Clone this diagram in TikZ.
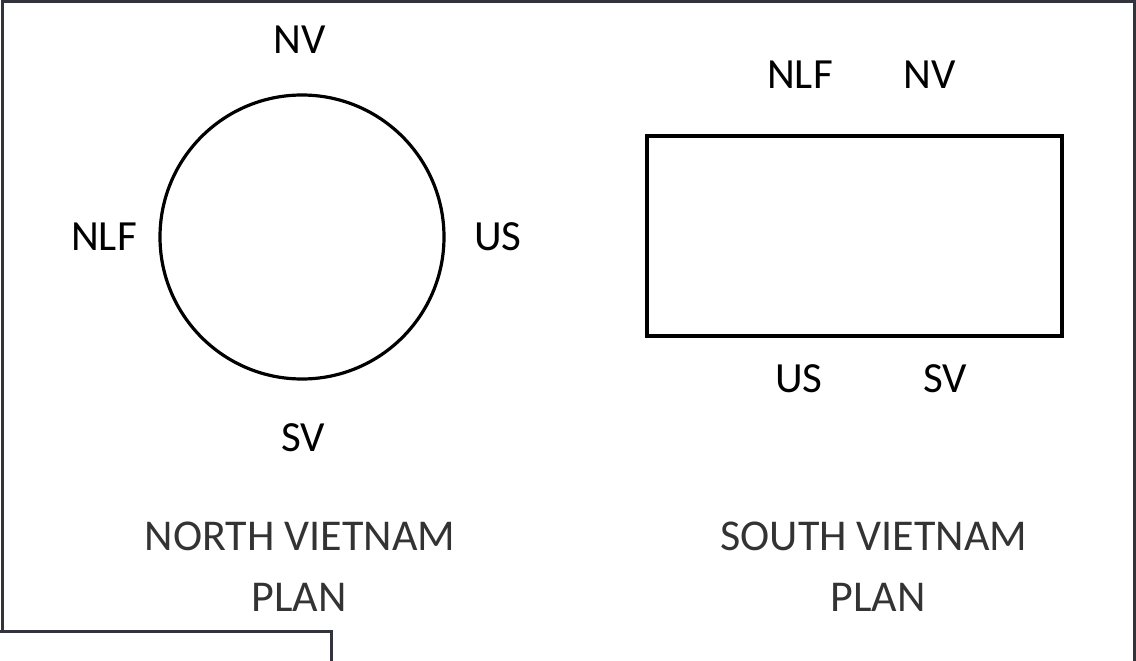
\documentclass[tikz,border=0pt]{standalone}
\usepackage{fontspec}
\setmainfont{Carlito}
\definecolor{FrameGrey}{HTML}{33333D}
\definecolor{CaptionGrey}{HTML}{333333}
\usetikzlibrary{positioning}

\begin{document}
\begin{tikzpicture}[x=1pt, y=-1pt,
  party/.style={inner sep=0pt, text=black, font=\fontsize{43}{50}\selectfont},
  caption/.style={inner sep=0pt, text=CaptionGrey, font=\fontsize{44}{52}\selectfont},
  frame/.style={draw=FrameGrey, line width=3pt}]
  \useasboundingbox (0,0) rectangle (1136,661);
  % outer frame and the corner box
  \draw[frame] (2,631) -- (2,2) -- (1134,2) -- (1134,661);
  \draw[frame] (0,631) -- (331,631) -- (331,661);
  % north plan
  \node[circle, draw, line width=3.2pt, minimum size=284pt, inner sep=0pt] (nring) at (302,237) {};
  \node[party] (nnv) at (300,40) {NV};
  \node[party] (nnlf) at (104,237) {NLF};
  \node[party] (nus) at (498,237) {US};
  \node[party] (nsv) at (303,438) {SV};
  \node[caption] (ncap) at (300,536) {NORTH VIETNAM};
  \node[caption] (nplan) at (299,597) {PLAN};
  % south plan
  \draw[line width=3.2pt] (647,136) rectangle (1062,336);
  \node[party] (snlf) at (800,75) {NLF};
  \node[party] (snv) at (930,75) {NV};
  \node[party] (sus) at (799,379) {US};
  \node[party] (ssv) at (945,379) {SV};
  \node[caption] (scap) at (874,536) {SOUTH VIETNAM};
  \node[caption] (splan) at (878,597) {PLAN};
\end{tikzpicture}
\end{document}
